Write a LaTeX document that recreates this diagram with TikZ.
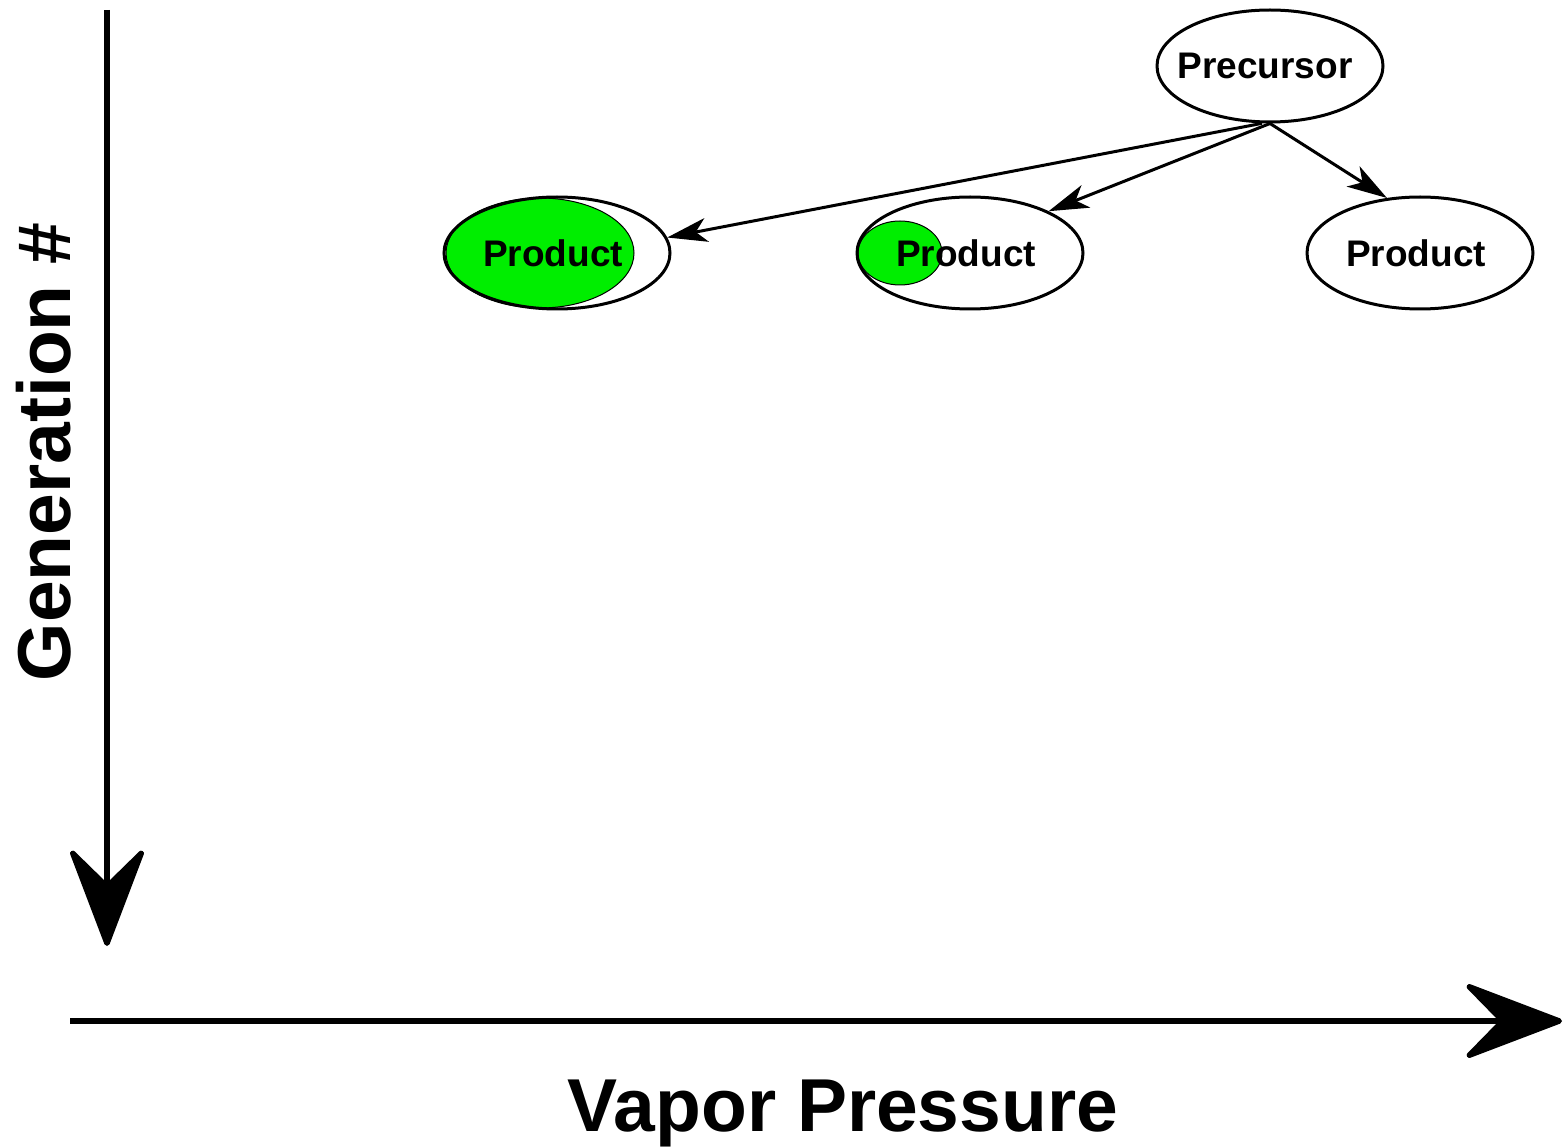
\documentclass[tikz,border=0pt]{standalone}
\usepackage{fontspec}
\setmainfont{Liberation Sans}
\usetikzlibrary{shapes.geometric,arrows.meta}
\definecolor{prodgreen}{RGB}{0,238,0}
\begin{document}
\begin{tikzpicture}[x=1pt,y=-1pt,
  ell/.style={ellipse, draw, line width=3pt, minimum width=226pt, minimum height=112pt,
    inner xsep=-20pt, inner ysep=0pt, font=\fontsize{37}{44}\selectfont\bfseries},
  blob/.style={ellipse, draw=black, line width=1pt, fill=prodgreen, inner sep=0pt},
  link/.style={line width=3pt, -{Stealth[length=40pt,width=24pt,inset=11pt]}},
  axis/.style={line width=5.5pt, -{Stealth[length=108pt,width=82pt,inset=40pt,round]}},
  big/.style={font=\fontsize{75}{88}\selectfont\bfseries}]
\useasboundingbox (0,0) rectangle (1564,1147);
% green markers
\node[blob, minimum width=188pt, minimum height=110pt] (g1) at (540,253) {};
\node[blob, minimum width=84pt, minimum height=64pt] (g2) at (900,253) {};
% nodes
\node[ell] (pre) at (1270,66) {Precursor\kern10pt};
\node[ell] (p1) at (557,253) {Product\kern8pt};
\node[ell] (p2) at (970,253) {Product\kern8pt};
\node[ell] (p3) at (1420,253) {Product\kern8pt};
% links
\draw[link] (pre.262) -- (p1.8);
\draw[link] (pre.south) -- (p2.28);
\draw[link] (pre.south) -- (p3.121);
% axes
\coordinate (vtop) at (107,10);
\coordinate (vbot) at (107,946);
\coordinate (hl) at (70,1021);
\coordinate (hr) at (1562,1021);
\draw[axis] (vtop) -- (vbot);
\draw[axis] (hl) -- (hr);
\node[big, rotate=90, anchor=base] (ylab) at (70,452) {Generation \#};
\node[big, anchor=base] (xlab) at (843,1131) {Vapor Pressure};
\end{tikzpicture}
\end{document}
